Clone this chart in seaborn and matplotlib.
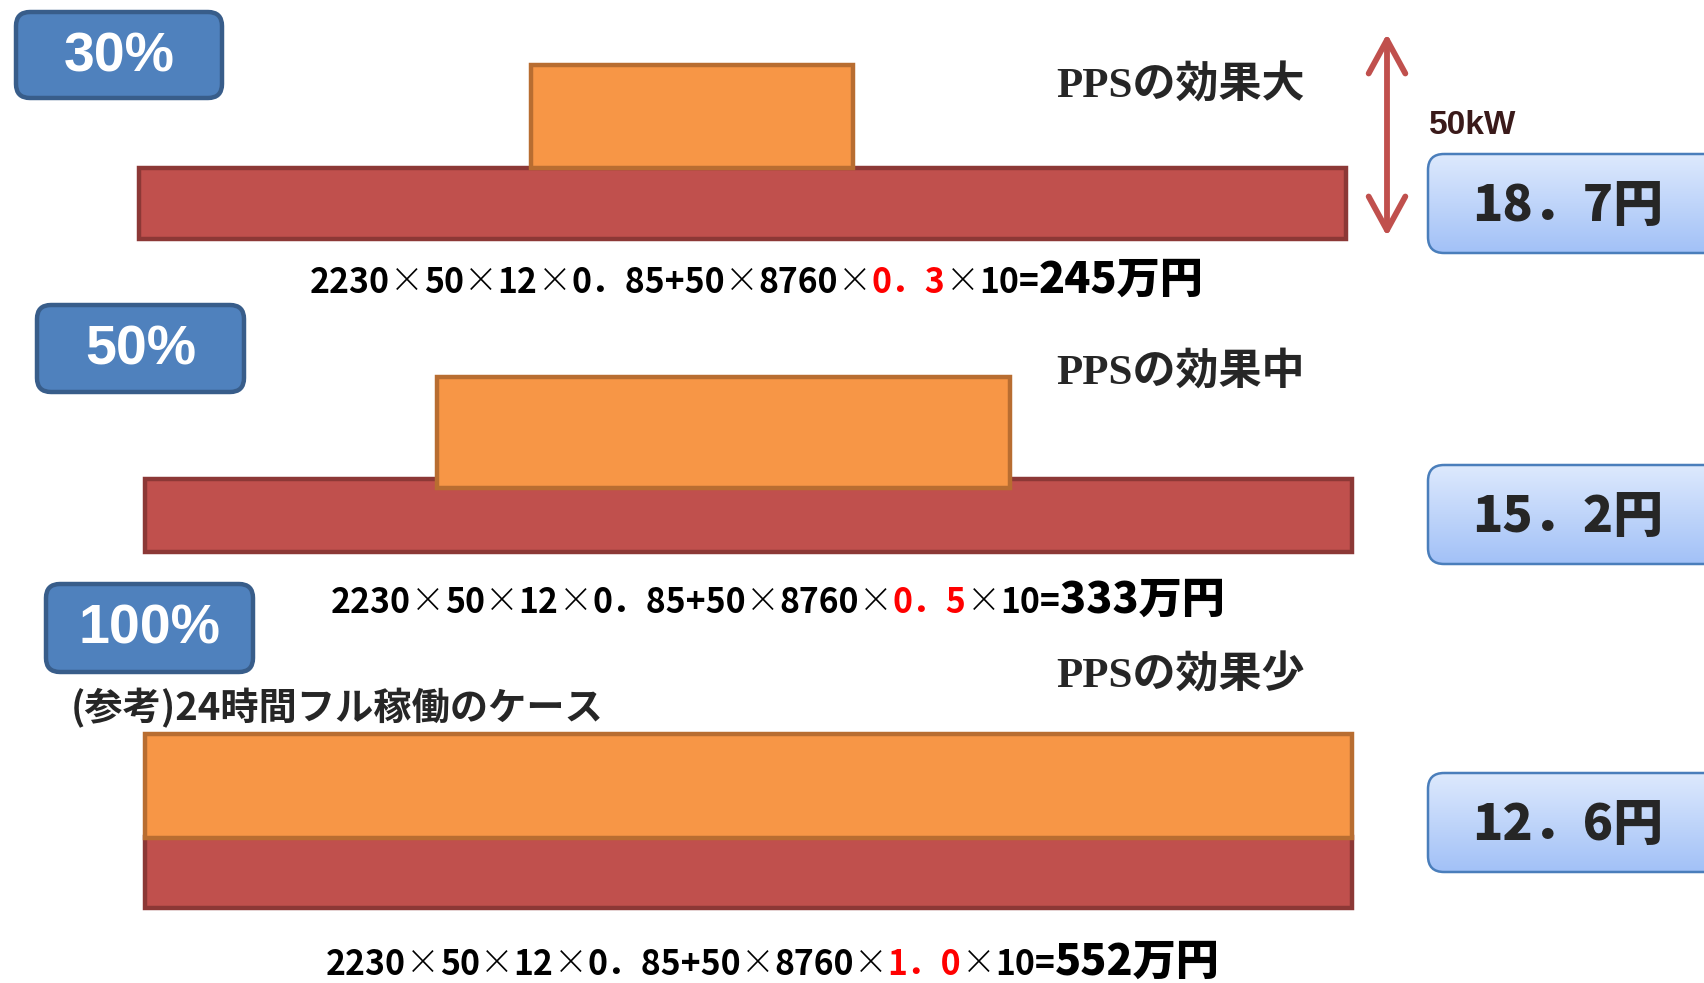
import numpy as np
import matplotlib
matplotlib.use("Agg")
import matplotlib.pyplot as plt
import seaborn as sns
from matplotlib.patches import FancyBboxPatch

# -------------------------------------------------------
# Data: three operating cases on a 24-hour day (50kW contract)
# -------------------------------------------------------
load_share = ["30%", "50%", "100%"]
peak_start = [7.8, 5.8, 0.0]      # start of the high-load block (hour)
peak_end = [14.2, 17.2, 24.0]     # end of the high-load block (hour)
day_hours = [24.0, 24.0, 24.0]    # base load runs all day
effect = ["PPSの効果大", "PPSの効果中", "PPSの効果少"]
formula_head = "2230×50×12×0．85+50×8760×"
load_factor = ["0．3", "0．5", "1．0"]
formula_tail = "×10="
total_cost = ["245万円", "333万円", "552万円"]
unit_price = ["18．7円", "15．2円", "12．6円"]
capacity_label = "50kW"
note = "(参考)24時間フル稼働のケース"

sns.set_theme(style="white")
plt.rcParams["font.family"] = ["Noto Sans CJK JP", "DejaVu Sans"]

W, H = 1704, 983
fig = plt.figure(figsize=(W / 100, H / 100), dpi=100)

RED, RED_EDGE = "#C0504D", "#8C3836"
ORANGE, ORANGE_EDGE = "#F79646", "#B86D31"
BLUE, BLUE_EDGE = "#4F81BD", "#385D8A"

# row layout in pixels: left, right, orange top, red top, red bottom, orange bottom
rows = [
    (139, 1346, 65, 168, 239, 168),
    (145, 1352, 377, 479, 552, 488),
    (145, 1352, 734, 837, 908, 838),
]

for i, (x0, x1, otop, rtop, rbot, obot) in enumerate(rows):
    ax = fig.add_axes([x0 / W, 1 - rbot / H, (x1 - x0) / W, (rbot - otop) / H])
    unit = rbot - rtop
    ax.set_xlim(0, 24)
    ax.set_ylim(0, (rbot - otop) / unit)
    o_base = (rbot - obot) / unit
    o_h = (obot - otop) / unit
    ax.barh(0.5, day_hours[i], left=0, height=1.0, color=RED,
            edgecolor=RED_EDGE, linewidth=3.2, clip_on=False, zorder=2)
    ax.barh(o_base + o_h / 2, peak_end[i] - peak_start[i], left=peak_start[i],
            height=o_h, color=ORANGE, edgecolor=ORANGE_EDGE, linewidth=3.2,
            clip_on=False, zorder=3)
    ax.axis("off")

# overlay axes in pixel units for annotations
ov = fig.add_axes([0, 0, 1, 1])
ov.set_xlim(0, W)
ov.set_ylim(H, 0)
ov.axis("off")
ov.patch.set_alpha(0)

# blue badges
badges = [(13, 9, 212, 92), (34, 302, 213, 93), (43, 581, 213, 94)]
for (bx, by, bw, bh), lab in zip(badges, load_share):
    ov.add_patch(FancyBboxPatch((bx + 3, by + 3), bw - 6, bh - 6,
                                boxstyle="round,pad=0,rounding_size=14",
                                facecolor=BLUE, edgecolor=BLUE_EDGE, linewidth=3.2))
    ov.text(bx + bw / 2, by + bh / 2 + 2, lab, color="white", fontsize=40,
            fontweight="bold", ha="center", va="center",
            family=["Liberation Sans", "Noto Sans CJK JP"])

# effect labels
for y, lab in zip([85, 372, 676], effect):
    ov.text(1056, y, lab, fontsize=31, fontweight="bold", ha="left", va="center",
            family=["Liberation Serif", "Noto Sans CJK JP"])

# price boxes with a vertical gradient
grad = np.linspace(0, 1, 100).reshape(-1, 1)
cmap = matplotlib.colors.LinearSegmentedColormap.from_list("g", ["#DDE9FD", "#A2C1F7"])
for top, price in zip([154, 465, 773], unit_price):
    box = FancyBboxPatch((1428, top), 300, 99, boxstyle="round,pad=0,rounding_size=16",
                         facecolor="none", edgecolor="#4A7EBB", linewidth=1.8, zorder=3)
    ov.add_patch(box)
    im = ov.imshow(grad, extent=(1428, 1728, top + 99, top), cmap=cmap,
                   aspect="auto", zorder=2)
    im.set_clip_path(box)
    ov.text(1568, top + 52, price, fontsize=36, fontweight="heavy", ha="center",
            va="center")

# 50kW double arrow
ov.annotate("", xy=(1387, 31), xytext=(1387, 239),
            arrowprops=dict(arrowstyle="<->,head_length=1.1,head_width=0.6",
                            mutation_scale=22, color=RED, lw=4.2))
ov.text(1429, 125, capacity_label, fontsize=24, fontweight="bold", color="#3A1A1A",
        ha="left", va="center", family=["Liberation Sans", "Noto Sans CJK JP"])

# note for the 24h case
ov.text(71, 708, note, fontsize=27.5, fontweight="bold", ha="left", va="center")

# formulas: chained text segments on a common baseline
renderer = fig.canvas.get_renderer()
inv = ov.transData.inverted()


def segments(s, color, size):
    # multiplication signs are drawn thin, numbers bold
    out = []
    for k, piece in enumerate(s.split("×")):
        if k > 0:
            out.append(("×", color, size, "light"))
        if piece:
            out.append((piece, color, size, "bold"))
    return out


for (fx, fy), lf, tot in zip([(310, 293), (331, 613), (326, 975)], load_factor, total_cost):
    parts = (segments(formula_head, "black", 24.3) + segments(lf, "#FF0000", 24.3)
             + segments(formula_tail, "black", 24.3) + [(tot, "black", 31, "heavy")])
    x = fx
    for s, c, size, wt in parts:
        t = ov.text(x, fy, s, color=c, fontsize=size, fontweight=wt,
                    ha="left", va="baseline")
        bb = t.get_window_extent(renderer=renderer)
        x = inv.transform((bb.x1, bb.y0))[0]

ov.set_xlim(0, W)
ov.set_ylim(H, 0)
fig.savefig("out.png", dpi=100, facecolor="white")
